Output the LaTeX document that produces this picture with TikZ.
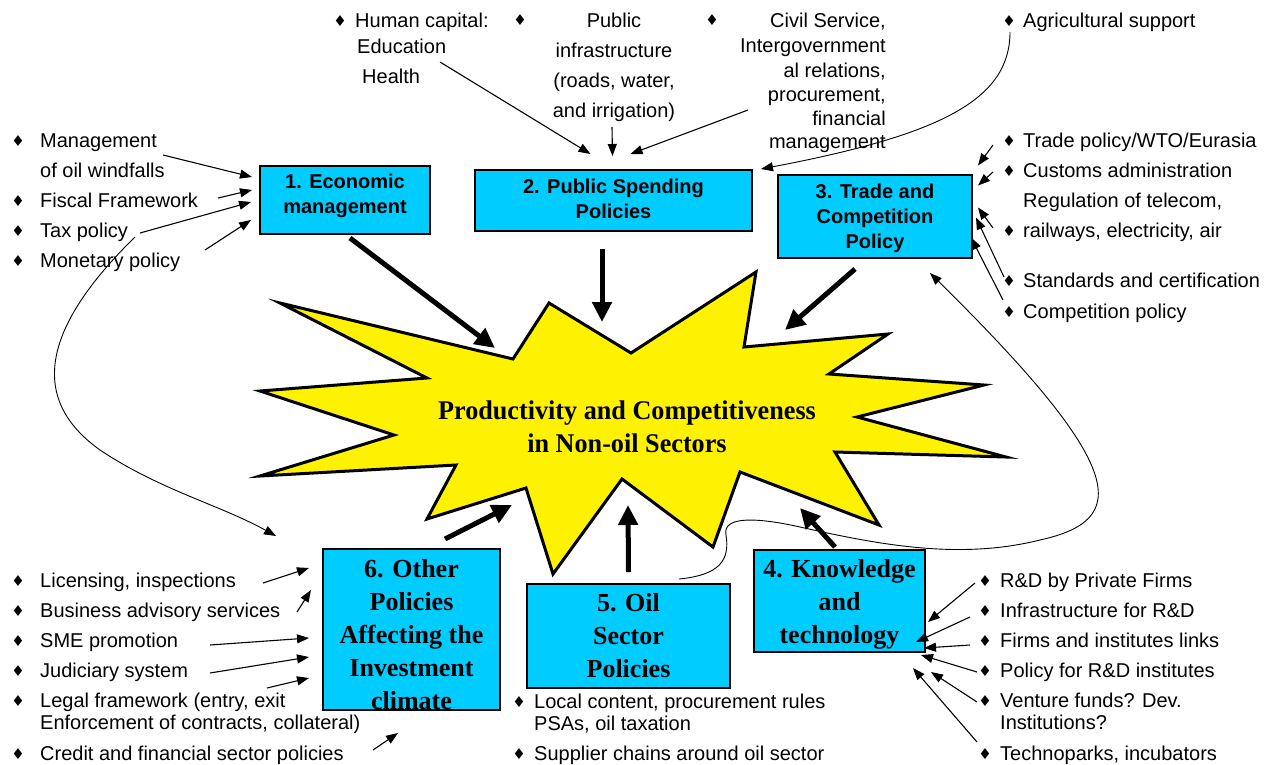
\documentclass[tikz,border=0pt]{standalone}
\usepackage{fontspec}
\setmainfont{Liberation Sans}
\newfontfamily\serifrm{Liberation Serif}
\newfontfamily\symfont{DejaVu Sans}
\usetikzlibrary{arrows.meta,calc}

\definecolor{boxcyan}{RGB}{0,204,255}
\newcommand{\dia}{{\symfont\fontsize{15}{15}\selectfont ♦}}
\newcommand{\bul}[1]{\llap{\makebox[0pt]{\raisebox{1pt}{\dia}}\hspace{#1}}}

\begin{document}
\begin{tikzpicture}[x=1pt,y=-1pt]
  \tikzstyle{every node}=[inner sep=0pt]
  \tikzstyle{itemtext}=[anchor=base west,font=\fontsize{20}{24}\selectfont]
  \tikzstyle{policybox}=[draw,line width=2pt,fill=boxcyan,align=center]
  \tikzstyle{sansbox}=[policybox,font=\fontsize{20}{25}\selectfont\bfseries]
  \tikzstyle{serifbox}=[policybox,font=\serifrm\bfseries\fontsize{26}{33}\selectfont]
  \tikzstyle{feedarrow}=[line width=1.1pt,-{Triangle[length=12pt,width=9pt]}]
  \tikzstyle{mainarrow}=[line width=5pt,-{Triangle[length=20pt,width=19pt]}]
  \useasboundingbox (0,0) rectangle (1286,764);

  % the burst in the middle
  \draw[line width=3pt,fill=yellow]
  (280,303) -- (513,359) -- (549,303) -- (631,353) -- (756,272) -- (744,347)
  -- (888,334) -- (829,374) -- (984,385) -- (857,417) -- (1006,457) -- (835,452)
  -- (879,525) -- (740,472) -- (713,547) -- (622,479) -- (553,574) -- (526,488)
  -- (427,519) -- (456,465) -- (260,476) -- (394,435) -- (260,391) -- (427,378)
  -- cycle;
  \node[font=\serifrm\bfseries\fontsize{27}{33}\selectfont,align=center,xscale=0.97,transform shape] (core) at (627,427)
  {Productivity and Competitiveness\\in Non-oil Sectors};

  % the six policy areas
  \node[sansbox,minimum width=170pt,minimum height=68pt] (econ) at (345,200) {1. Economic\\management\rule[-13pt]{0pt}{13pt}};
  \node[sansbox,minimum width=277pt,minimum height=61pt] (spend) at (613.5,200.5) {2. Public Spending\\Policies\rule[-4pt]{0pt}{4pt}};
  \node[sansbox,minimum width=194pt,minimum height=83pt] (trade) at (875,216.5) {\rule{0pt}{18pt}3. Trade and\\Competition\\Policy};
  \node[serifbox,minimum width=171pt,minimum height=102pt] (know) at (839.5,601) {\rule{0pt}{24pt}4. Knowledge\\and\\technology};
  \node[serifbox,minimum width=203pt,minimum height=104pt] (oil) at (628.5,636) {5. Oil\\Sector\\Policies};
  \node[serifbox,minimum width=177pt,minimum height=161pt] (other) at (411.5,629.5) {\rule{0pt}{28pt}6. Other\\Policies\\Affecting the\\Investment\\climate};

  \coordinate (core1) at (495,348);
  \coordinate (core2) at (602,322);
  \coordinate (core3) at (785,330);
  \coordinate (core4) at (800,508);
  \coordinate (core5) at (628,505);
  \coordinate (core6) at (512,505);
  \draw[mainarrow] ($(econ.south)+(5,3)$) -- (core1);
  \draw[mainarrow] ($(spend.south)+(-11.5,17)$) -- (core2);
  \draw[mainarrow] ($(trade.south)+(-20,10)$) -- (core3);
  \draw[mainarrow] ($(know.north)+(-4.5,-2)$) -- (core4);
  \draw[mainarrow] ($(oil.north)+(0,-11)$) -- (core5);
  \draw[mainarrow] ($(other.north)+(33.5,-9)$) -- (core6);

  % 1. economic management
  \node[itemtext] (mgmt) at (40,147) {\bul{22pt}Management};
  \node[itemtext] (wind) at (40,177) {of oil windfalls};
  \node[itemtext] (fisc) at (40,207) {\bul{22pt}Fiscal Framework};
  \node[itemtext] (tax) at (40,237) {\bul{22pt}Tax policy};
  \node[itemtext] (mone) at (40,267) {\bul{22pt}Monetary policy};
  \coordinate (mgmtA) at (163,155);
  \coordinate (fiscA) at (218,198);
  \coordinate (taxA) at (140,233);
  \coordinate (moneA) at (205,250);
  \coordinate (taxB) at (135,237);
  \draw[feedarrow] (mgmtA) -- ($(econ.west)+(-7,-23)$);
  \draw[feedarrow] (fiscA) -- ($(econ.west)+(-7,-10)$);
  \draw[feedarrow] (taxA) -- ($(econ.west)+(-8,2)$);
  \draw[feedarrow] (moneA) -- ($(econ.west)+(-8,20)$);
  \draw[feedarrow,line width=0.9pt] (taxB) .. controls (40,330) and (30,400) .. (100,450)
  .. controls (160,490) and (220,505) .. ($(other.north west)+(-46,-12)$);

  % 2. public spending
  \node[itemtext] (hum) at (355,27) {\bul{15pt}Human capital:};
  \node[itemtext] (edu) at (357,53) {Education};
  \node[itemtext] (hea) at (362,83) {Health};
  \node (pubdot) at (520,20) {\dia};
  \node[itemtext,anchor=base] (pub1) at (614,27) {Public};
  \node[itemtext,anchor=base] (pub2) at (614,57) {infrastructure};
  \node[itemtext,anchor=base] (pub3) at (614,87) {(roads, water,};
  \node[itemtext,anchor=base] (pub4) at (614,117) {and irrigation)};
  \node (civdot) at (712,20) {\dia};
  \node[itemtext,anchor=base east] (civ1) at (886,27) {Civil Service,};
  \node[itemtext,anchor=base east] (civ2) at (886,52) {Intergovernment};
  \node[itemtext,anchor=base east] (civ3) at (886,77) {al relations,};
  \node[itemtext,anchor=base east] (civ4) at (886,101) {procurement,};
  \node[itemtext,anchor=base east] (civ5) at (886,125) {financial};
  \node[itemtext,anchor=base east] (civ6) at (886,148) {management};
  \node[itemtext] (agri) at (1023,27) {\bul{14pt}Agricultural support};
  \coordinate (humA) at (440,62);
  \coordinate (pubA) at (612,127);
  \coordinate (civA) at (748,110);
  \coordinate (agriA) at (1010,32);
  \draw[feedarrow] (humA) -- ($(spend.north)+(-23,-15)$);
  \draw[feedarrow] (pubA) -- ($(spend.north)+(-1,-13)$);
  \draw[feedarrow] (civA) -- ($(spend.north)+(17,-15)$);
  \draw[feedarrow,line width=0.9pt] (agriA) .. controls (1010,100) and (940,135) .. ($(spend.north east)+(8,0)$);

  % 3. trade and competition
  \node[itemtext] (wto) at (1023,147) {\bul{14pt}Trade policy/WTO/Eurasia};
  \node[itemtext] (cust) at (1023,177) {\bul{14pt}Customs administration};
  \node[itemtext] (regu) at (1023,207) {Regulation of telecom,};
  \node[itemtext] (rail) at (1023,237) {\bul{14pt}railways, electricity, air};
  \node[itemtext] (stan) at (1023,287) {\bul{14pt}Standards and certification};
  \node[itemtext] (comp) at (1023,318) {\bul{14pt}Competition policy};
  \coordinate (wtoA) at (993,145);
  \coordinate (custA) at (993,172);
  \coordinate (railA) at (993,228);
  \coordinate (stanA) at (1004,277);
  \coordinate (compA) at (1003,300);
  \draw[feedarrow] (wtoA) -- ($(trade.east)+(5,-51)$);
  \draw[feedarrow] (custA) -- ($(trade.east)+(5,-31)$);
  \draw[feedarrow] (railA) -- ($(trade.east)+(5,-9)$);
  \draw[feedarrow] (stanA) -- ($(trade.east)+(3,1)$);
  \draw[feedarrow] (compA) -- ($(trade.east)+(-2,21)$);

  % 4. knowledge and technology
  \node[itemtext] (rdp) at (1000,587) {\bul{15pt}R\&D by Private Firms};
  \node[itemtext] (rdi) at (1000,617) {\bul{15pt}Infrastructure for R\&D};
  \node[itemtext] (link) at (1000,647) {\bul{15pt}Firms and institutes links};
  \node[itemtext] (rdpol) at (1000,677) {\bul{15pt}Policy for R\&D institutes};
  \node[itemtext] (vent) at (1000,707) {\bul{15pt}Venture funds? Dev.};
  \node[itemtext] (inst) at (1000,729) {Institutions?};
  \node[itemtext] (tech) at (1000,760) {\bul{15pt}Technoparks, incubators};
  \coordinate (rdpA) at (975,583);
  \coordinate (rdiA) at (970,617);
  \coordinate (linkA) at (970,645);
  \coordinate (rdpolA) at (977,672);
  \coordinate (ventA) at (977,702);
  \coordinate (techA) at (977,742);
  \draw[feedarrow] (rdpA) -- ($(know.east)+(2,21)$);
  \draw[feedarrow] (rdiA) -- ($(know.east)+(-10,41)$);
  \draw[feedarrow] (linkA) -- ($(know.east)+(-2,47)$);
  \draw[feedarrow] (rdpolA) -- ($(know.east)+(-5,54)$);
  \draw[feedarrow] (ventA) -- ($(know.east)+(5,71)$);
  \draw[feedarrow] (techA) -- ($(know.east)+(-13,67)$);

  % 5. oil sector
  \node[itemtext] (local) at (534,708) {\bul{15pt}Local content, procurement rules};
  \node[itemtext] (psa) at (534,730) {PSAs, oil taxation};
  \node[itemtext] (supp) at (534,760) {\bul{15pt}Supplier chains around oil sector};
  \coordinate (oilA) at ($(oil.north east)+(-52,-4)$);
  \draw[feedarrow,line width=0.9pt] (oilA) .. controls (720,575) and (730,560) .. (726,535)
  .. controls (722,515) and (760,518) .. (800,527)
  .. controls (880,545) and (960,560) .. (1040,540)
  .. controls (1130,520) and (1130,470) .. ($(trade.south)+(55,14)$);

  % 6. investment climate
  \node[itemtext] (lic) at (40,587) {\bul{22pt}Licensing, inspections};
  \node[itemtext] (busi) at (40,617) {\bul{22pt}Business advisory services};
  \node[itemtext] (sme) at (40,647) {\bul{22pt}SME promotion};
  \node[itemtext] (jud) at (40,677) {\bul{22pt}Judiciary system};
  \node[itemtext] (legal) at (40,707) {\bul{22pt}Legal framework (entry, exit};
  \node[itemtext] (enf) at (40,729) {Enforcement of contracts, collateral)};
  \node[itemtext] (cred) at (40,760) {\bul{22pt}Credit and financial sector policies};
  \coordinate (licA) at (263,583);
  \coordinate (busiA) at (297,612);
  \coordinate (smeA) at (210,645);
  \coordinate (judA) at (210,673);
  \coordinate (legalA) at (267,688);
  \coordinate (credA) at (373,750);
  \draw[feedarrow] (licA) -- ($(other.west)+(-13,-61.5)$);
  \draw[feedarrow] (busiA) -- ($(other.west)+(-11,-39.5)$);
  \draw[feedarrow] (smeA) -- ($(other.west)+(-13,8.5)$);
  \draw[feedarrow] (judA) -- ($(other.west)+(-13,27.5)$);
  \draw[feedarrow] (legalA) -- ($(other.west)+(-13,48.5)$);
  \draw[feedarrow] (credA) -- ($(other.south)+(-13.5,22)$);
\end{tikzpicture}
\end{document}
